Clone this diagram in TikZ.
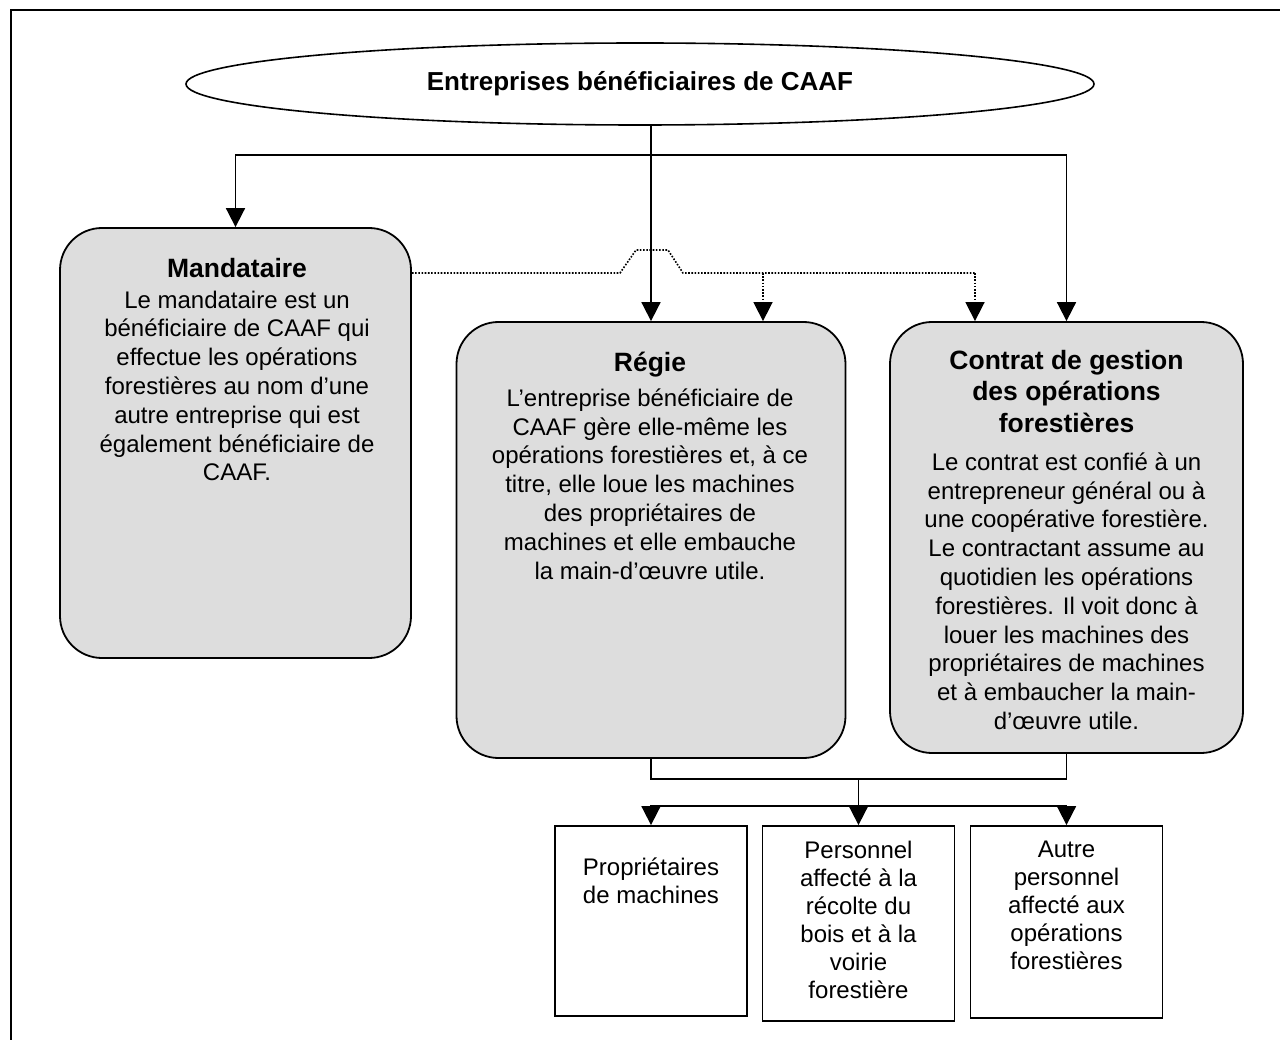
\documentclass[tikz,border=0pt]{standalone}
\usepackage{fontspec}
\setmainfont{Liberation Sans}
\usetikzlibrary{arrows.meta,shapes.geometric}
\definecolor{boxgray}{RGB}{221,221,221}
\begin{document}
\begin{tikzpicture}[x=1pt,y=-1pt,
  conn/.style={line width=1.8pt},
  arr/.style={-{Triangle[length=19pt,width=19pt]}},
  dotc/.style={line width=1.6pt, dash pattern=on 1.6pt off 1.6pt},
  gbox/.style={draw, line width=1.8pt, fill=boxgray, rounded corners=42pt, inner sep=0},
  wbox/.style={draw, line width=1.8pt, fill=white, inner sep=0},
  body/.style={font=\fontsize{24}{28.8}\selectfont, align=center, inner sep=0, anchor=north},
  head/.style={font=\fontsize{26.5}{31.5}\selectfont\bfseries, align=center, inner sep=0, anchor=north},
  small/.style={font=\fontsize{24}{28}\selectfont, align=center, inner sep=0, anchor=north}
]
\useasboundingbox (0,0) rectangle (1280,1040);
\clip (0,0) rectangle (1280,1040);
% outer frame
\draw[line width=2pt] (11,10) rectangle (1300,1060);

% top ellipse
\node[draw, ellipse, line width=1.6pt, minimum width=908pt, minimum height=82pt, inner sep=0,
      font=\fontsize{26}{30}\selectfont\bfseries] (ell) at (640,84) {Entreprises bénéficiaires de CAAF};

% grey boxes
\node[gbox, minimum width=351pt, minimum height=430pt] (mand) at (235.5,443) {};
\node[gbox, minimum width=389pt, minimum height=436pt] (reg) at (651,540) {};
\node[gbox, minimum width=353pt, minimum height=431pt] (cont) at (1066.5,537.5) {};

% white boxes
\node[wbox, minimum width=192pt, minimum height=190pt] (b1) at (651,921) {};
\node[wbox, minimum width=192pt, minimum height=195pt] (b2) at (858.5,923.5) {};
\node[wbox, minimum width=192pt, minimum height=192pt] (b3) at (1066.5,922) {};

% texts
\node[head] (mandh) at (237,258) {Mandataire};
\node[body] (mandb) at (237,290.5) {Le mandataire est un\\bénéficiaire de CAAF qui\\effectue les opérations\\forestières au nom d’une\\autre entreprise qui est\\également bénéficiaire de\\CAAF.};
\node[head] (regh) at (650,352) {Régie};
\node[body] (regb) at (650,388.5) {L’entreprise bénéficiaire de\\CAAF gère elle-même les\\opérations forestières et, à ce\\titre, elle loue les machines\\des propriétaires de\\machines et elle embauche\\la main-d’œuvre utile.};
\node[head] (conth) at (1066.5,350) {Contrat de gestion\\des opérations\\forestières};
\node[body] (contb) at (1066.5,452.5) {Le contrat est confié à un\\entrepreneur général ou à\\une coopérative forestière.\\Le contractant assume au\\quotidien les opérations\\forestières. Il voit donc à\\louer les machines des\\propriétaires de machines\\et à embaucher la main-\\d’œuvre utile.};
\node[small] (b1t) at (651,857.5) {Propriétaires\\de machines};
\node[small] (b2t) at (858.5,840.5) {Personnel\\affecté à la\\récolte du\\bois et à la\\voirie\\forestière};
\node[small] (b3t) at (1066.5,840.5) {Autre\\personnel\\affecté aux\\opérations\\forestières};

% top connectors
\coordinate (split) at (651,155);
\draw[conn,arr] (reg.north |- ell.south) -- (reg.north);
\draw[conn,arr] (split) -| (mand.north);
\draw[conn,arr] (split) -| (cont.north);

% dotted connector
\coordinate (d1) at (620,273);
\coordinate (d2) at (636,250);
\coordinate (d3) at (668,250);
\coordinate (d4) at (683,273);
\coordinate (dj1) at (763,273);
\coordinate (dj2) at (975,273);
\draw[dotc] (mand.east |- d1) -- (d1) -- (d2) -- (d3) -- (d4) -- (dj2);
\draw[dotc,arr] (dj1) -- (dj1 |- reg.north);
\draw[dotc,arr] (dj2) -- (dj2 |- cont.north);

% bottom connectors
\coordinate (bk) at (858.5,779);
\coordinate (dist) at (858.5,806);
\draw[conn] (reg.south) |- (bk) -| (cont.south);
\draw[conn,arr] (bk) -- (b2.north);
\draw[conn,arr] (dist) -| (b1.north);
\draw[conn,arr] (dist) -| (b3.north);
\end{tikzpicture}
\end{document}
